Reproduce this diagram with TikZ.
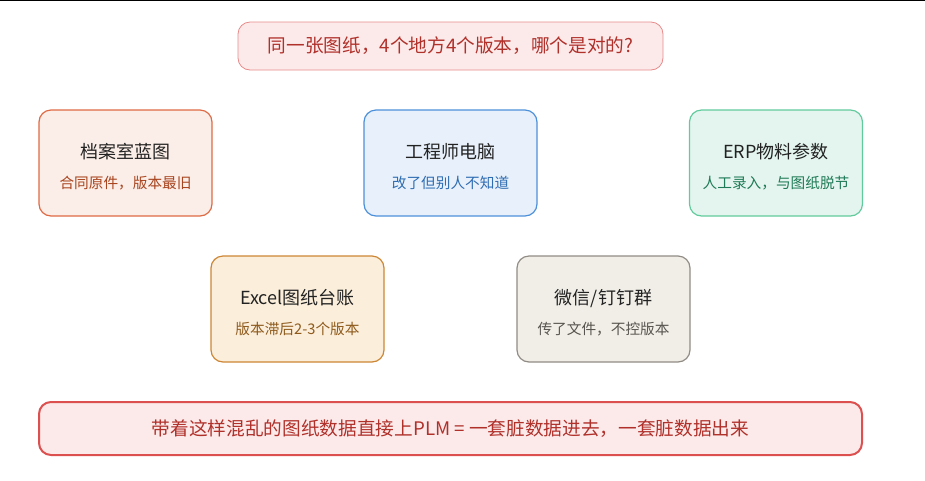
\documentclass[tikz,border=0pt]{standalone}
\usepackage{fontspec}
\setmainfont{Noto Sans CJK SC}
\usetikzlibrary{positioning}

\definecolor{warnfill}{HTML}{FCEAEA}
\definecolor{warnline}{HTML}{E88A8A}
\definecolor{warntext}{HTML}{B0302A}
\definecolor{alarmline}{HTML}{DC5050}
\definecolor{archfill}{HTML}{FBEDE7}
\definecolor{archline}{HTML}{DF6A44}
\definecolor{archtext}{HTML}{A8441E}
\definecolor{engfill}{HTML}{E8F1FB}
\definecolor{engline}{HTML}{4D90DA}
\definecolor{engtext}{HTML}{2F6DB3}
\definecolor{erpfill}{HTML}{E3F5EE}
\definecolor{erpline}{HTML}{62CB9E}
\definecolor{erptext}{HTML}{1F7A57}
\definecolor{xlsfill}{HTML}{FBEEDB}
\definecolor{xlsline}{HTML}{CD8634}
\definecolor{xlstext}{HTML}{8E5A1C}
\definecolor{chatfill}{HTML}{F1EEE8}
\definecolor{chatline}{HTML}{918C85}
\definecolor{chattext}{HTML}{585550}
\definecolor{headtext}{HTML}{222222}

% title + grey-ish subtitle inside a source box
\newcommand{\srcbox}[3]{{\fontsize{13.5}{16}\selectfont\color{headtext}\rule{0pt}{16.5pt}#1}\\[10.5pt]%
  {\fontsize{11}{13}\selectfont\color{#3}#2}}

\begin{document}
\begin{tikzpicture}[x=0.75pt,y=-0.75pt,
  src/.style={draw,line width=0.9pt,rounded corners=9pt,align=center,
    minimum width=129.75pt,minimum height=79.5pt,inner sep=0pt},
  banner/.style={draw,rounded corners=9pt,align=center,inner sep=0pt}]
  \useasboundingbox (0,0) rectangle (925,480);
  % top rule
  \coordinate (ruleL) at (0,0.5);
  \coordinate (ruleR) at (925,0.5);
  \draw[line width=1pt] (ruleL) -- (ruleR);

  % question
  \node[banner,fill=warnfill,draw=warnline,line width=0.6pt,
    minimum width=318.75pt,minimum height=36pt] (ask) at (450.5,46)
    {\fontsize{14}{16}\selectfont\color{warntext}同一张图纸，4个地方4个版本，哪个是对的?};

  % sources, row 1
  \node[src,fill=archfill,draw=archline] (arch) at (125.5,163)
    {\srcbox{档案室蓝图}{合同原件，版本最旧}{archtext}};
  \node[src,fill=engfill,draw=engline] (eng) at (450.5,163)
    {\srcbox{工程师电脑}{改了但别人不知道}{engtext}};
  \node[src,fill=erpfill,draw=erpline] (erp) at (776,163)
    {\srcbox{ERP物料参数}{人工录入，与图纸脱节}{erptext}};

  % sources, row 2
  \node[src,fill=xlsfill,draw=xlsline] (xls) at (297.5,309)
    {\srcbox{Excel图纸台账}{版本滞后2-3个版本}{xlstext}};
  \node[src,fill=chatfill,draw=chatline] (chat) at (603.5,309)
    {\srcbox{微信/钉钉群}{传了文件，不控版本}{chattext}};

  % result
  \node[banner,fill=warnfill,draw=alarmline,line width=1.5pt,
    minimum width=617.25pt,minimum height=39.75pt] (plm) at (450.5,428.5)
    {\fontsize{14}{16}\selectfont\color{warntext}带着这样混乱的图纸数据直接上PLM = 一套脏数据进去，一套脏数据出来};
\end{tikzpicture}
\end{document}
